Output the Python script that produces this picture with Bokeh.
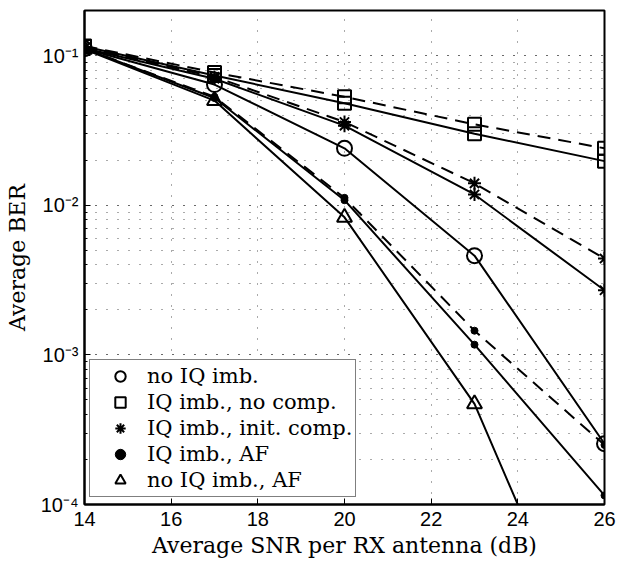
from bokeh.plotting import figure
from bokeh.models import Range1d, FixedTicker, LogTicker, Legend, LegendItem
from bokeh.embed import file_html
from bokeh.resources import INLINE

# ---- data ----
snr = [14, 17, 20, 23, 26]
ber_no_iq = [0.111, 0.064, 0.024, 0.0046, 2.55e-4]
ber_nocomp_solid = [0.115, 0.0736, 0.048, 0.030, 0.0197]
ber_nocomp_dashed = [0.116, 0.077, 0.053, 0.0347, 0.024]
ber_init_solid = [0.112, 0.070, 0.034, 0.0118, 0.0027]
ber_init_dashed = [0.113, 0.072, 0.036, 0.014, 0.0044]
ber_af_solid = [0.111, 0.052, 0.0108, 0.00117, 1.15e-4]
ber_af_dashed = [0.111, 0.053, 0.0112, 0.00145, 2.5e-4]
ber_noiq_af = [0.110, 0.050, 0.0083, 4.7e-4, 4.5e-6]

x_ticks = [14, 16, 18, 20, 22, 24, 26]
y_tick_labels = {1e-4: "10\u207b\u2074", 1e-3: "10\u207b\u00b3", 1e-2: "10\u207b\u00b2", 1e-1: "10\u207b\u00b9"}
legend_labels = ["no IQ imb.", "IQ imb., no comp.", "IQ imb., init. comp.", "IQ imb., AF", "no IQ imb., AF"]

TICK_FONT = "Liberation Sans"
SERIF = "DejaVu Serif"

p = figure(width=618, height=565, x_range=Range1d(14, 26), y_range=Range1d(1e-4, 0.2),
           y_axis_type="log", output_backend="svg", toolbar_location=None,
           min_border_left=84, min_border_right=14, min_border_top=10, min_border_bottom=61)
p.background_fill_color = "white"
p.border_fill_color = "white"
p.outline_line_color = "black"
p.outline_line_width = 2

# grids
p.xgrid.ticker = FixedTicker(ticks=x_ticks)
p.xgrid.grid_line_color = "#555555"
p.xgrid.grid_line_dash = "1 10"
p.xgrid.grid_line_width = 1
p.ygrid.grid_line_color = "#555555"
p.ygrid.grid_line_dash = "1 10"
p.ygrid.minor_grid_line_color = "#555555"
p.ygrid.minor_grid_line_dash = "1 10"

# axes
def style_axis(ax):
    ax.axis_line_width = 2
    ax.axis_line_color = "black"
    ax.major_tick_in = 6
    ax.major_tick_out = 0
    ax.minor_tick_in = 3
    ax.minor_tick_out = 0
    ax.major_tick_line_width = 1
    ax.minor_tick_line_width = 1
    ax.major_label_text_font = TICK_FONT
    ax.major_label_text_font_size = "20px"
    ax.major_label_text_color = "black"
    ax.axis_label_text_font = SERIF
    ax.axis_label_text_font_style = "normal"
    ax.axis_label_text_font_size = "22px"
    ax.axis_label_text_color = "black"

xa = p.xaxis[0]
xa.ticker = FixedTicker(ticks=x_ticks)
style_axis(xa)
xa.minor_tick_line_color = None
xa.major_label_standoff = 7
xa.axis_label = "Average SNR per RX antenna (dB)"
xa.axis_label_standoff = 4

ya = p.yaxis[0]
ya.ticker = LogTicker(num_minor_ticks=10)
style_axis(ya)
ya.major_label_overrides = y_tick_labels
ya.major_label_standoff = 6
ya.axis_label = "Average BER"
ya.axis_label_standoff = 8

# lines
LW = 2
DASH = "13 8"
p.line(snr, ber_no_iq, line_color="black", line_width=LW)
p.line(snr, ber_nocomp_solid, line_color="black", line_width=LW)
p.line(snr, ber_nocomp_dashed, line_color="black", line_width=LW, line_dash=DASH)
p.line(snr, ber_init_solid, line_color="black", line_width=LW)
p.line(snr, ber_init_dashed, line_color="black", line_width=LW, line_dash=DASH)
p.line(snr, ber_af_solid, line_color="black", line_width=LW)
p.line(snr, ber_af_dashed, line_color="black", line_width=LW, line_dash=DASH)
p.line(snr, ber_noiq_af, line_color="black", line_width=LW)

# markers
MLW = 2
r_circ = p.scatter(snr, ber_no_iq, marker="circle", size=15, line_color="black", fill_color=None, line_width=MLW)
r_sq = p.scatter(snr, ber_nocomp_solid, marker="square", size=13, line_color="black", fill_color=None, line_width=MLW)
p.scatter(snr, ber_nocomp_dashed, marker="square", size=13, line_color="black", fill_color=None, line_width=MLW)
r_ast = p.scatter(snr, ber_init_solid, marker="asterisk", size=13, line_color="black", line_width=MLW)
p.scatter(snr, ber_init_dashed, marker="asterisk", size=13, line_color="black", line_width=MLW)
r_dot = p.scatter(snr, ber_af_solid, marker="circle", size=7, line_color="black", fill_color="black")
p.scatter(snr, ber_af_dashed, marker="circle", size=7, line_color="black", fill_color="black")
r_tri = p.scatter(snr, ber_noiq_af, marker="triangle", size=15, line_color="black", fill_color=None, line_width=MLW)

legend = Legend(items=[
    LegendItem(label=legend_labels[0], renderers=[r_circ]),
    LegendItem(label=legend_labels[1], renderers=[r_sq]),
    LegendItem(label=legend_labels[2], renderers=[r_ast]),
    LegendItem(label=legend_labels[3], renderers=[r_dot]),
    LegendItem(label=legend_labels[4], renderers=[r_tri]),
], location=(5, 7))
legend.label_text_font = SERIF
legend.label_text_font_size = "21px"
legend.label_text_color = "black"
legend.padding = 3
legend.margin = 0
legend.spacing = 0
legend.glyph_width = 54
legend.glyph_height = 26
legend.label_height = 26
legend.label_width = 200
legend.label_standoff = 0
legend.border_line_color = "black"
legend.border_line_width = 1
legend.background_fill_color = "white"
legend.background_fill_alpha = 1
p.add_layout(legend, "center")

open("out.html", "w").write(file_html(p, INLINE))
